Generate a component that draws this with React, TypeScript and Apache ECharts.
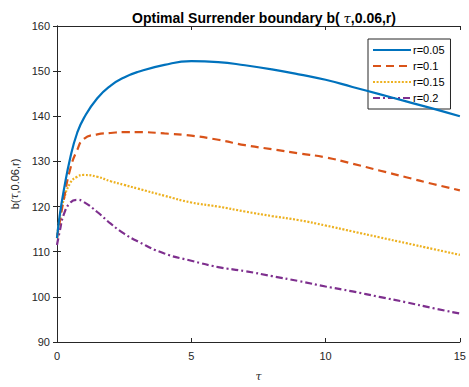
import React, { useEffect, useRef } from "react";
import * as echarts from "echarts";

const tau = [0, 0.1, 0.25, 0.5, 0.75, 1, 1.5, 2, 2.5, 3, 4, 5, 6, 7, 8, 9, 10, 11, 12, 13, 14, 15];
const seriesNames = ["r=0.05", "r=0.1", "r=0.15", "r=0.2"];
const r005 = [113, 118, 123.5, 131, 136.3, 139.6, 144, 146.8, 148.6, 149.8, 151.4, 152.2, 152.0, 151.3, 150.4, 149.3, 148.1, 146.5, 144.9, 143.3, 141.7, 140.0];
const r01 = [113, 116.5, 121.5, 128.5, 132.5, 135.0, 136.0, 136.3, 136.5, 136.5, 136.2, 135.7, 134.8, 133.6, 132.7, 131.8, 130.9, 129.5, 128.0, 126.5, 125.0, 123.6];
const r015 = [113, 117.5, 121.5, 125.3, 126.6, 127.0, 126.6, 125.6, 124.8, 124.0, 122.4, 120.9, 120.0, 118.9, 117.9, 117.0, 115.8, 114.5, 113.2, 111.9, 110.6, 109.3];
const r02 = [111.5, 114.5, 118.2, 120.9, 121.5, 121.0, 118.8, 116.2, 114.0, 112.3, 109.6, 108.0, 106.6, 105.7, 104.6, 103.5, 102.3, 101.2, 100.0, 98.8, 97.5, 96.3];
const xTicks = { min: 0, max: 15, interval: 5 };
const yTicks = { min: 90, max: 160, interval: 10 };

const colors = ["#0072BD", "#D95319", "#EDB120", "#7E2F8E"];
const dashes: any[] = ["solid", [8, 5], [2, 1.6], [7, 3, 2, 3]];
const allValues = [r005, r01, r015, r02];

const FONT = "Liberation Sans, Arial, Helvetica, sans-serif";
const AX = "#262626";

export default function App() {
  const ref = useRef<HTMLDivElement>(null);
  useEffect(() => {
    document.body.style.margin = "0";
    document.body.style.overflow = "hidden";
    if (!ref.current) return;
    const chart = echarts.init(ref.current, undefined, { renderer: "svg" });
    const axisCommon = {
      axisLine: { show: true, lineStyle: { color: AX, width: 1 } },
      axisTick: { show: true, inside: true, length: 4, lineStyle: { color: AX } },
      splitLine: { show: false },
    };
    chart.setOption({
      animation: false,
      backgroundColor: "#ffffff",
      title: {
        text: "Optimal Surrender boundary b( {i|τ},0.06,r)",
        left: 259,
        textAlign: "center",
        top: 6,
        textStyle: {
          fontFamily: FONT,
          fontSize: 14,
          fontWeight: "bold",
          color: "#000",
          rich: { i: { fontStyle: "italic", fontFamily: "DejaVu Serif, serif", fontSize: 13, fontWeight: "normal", color: "#000" } },
        },
      },
      legend: {
        orient: "vertical",
        left: 368,
        top: 39,
        padding: [5, 6, 5, 4],
        itemWidth: 38,
        itemHeight: 8,
        itemGap: 4,
        backgroundColor: "#ffffff",
        borderColor: AX,
        borderWidth: 1,
        itemStyle: { opacity: 0 },
        textStyle: { fontFamily: FONT, fontSize: 11, color: "#000", padding: [0, 0, 0, -3], lineHeight: 12 },
        data: seriesNames,
      },
      grid: { left: 57, right: 8, top: 26, bottom: 38, containLabel: false },
      xAxis: [
        {
          type: "value",
          ...xTicks,
          ...axisCommon,
          name: "τ",
          nameLocation: "middle",
          nameGap: 29,
          nameTextStyle: { fontFamily: "DejaVu Serif, serif", fontStyle: "italic", fontSize: 11, color: AX },
          axisLabel: { color: AX, fontFamily: FONT, fontSize: 11, margin: 8 },
        },
        {
          type: "value",
          position: "top",
          ...xTicks,
          ...axisCommon,
          axisLabel: { show: false },
        },
      ],
      yAxis: [
        {
          type: "value",
          ...yTicks,
          ...axisCommon,
          name: "b({i|τ},0.06,r)",
          nameLocation: "middle",
          nameGap: 37,
          nameRotate: 90,
          nameTextStyle: {
            fontFamily: FONT,
            fontSize: 11,
            color: AX,
            rich: { i: { fontStyle: "italic", fontFamily: "DejaVu Serif, serif", fontSize: 11, color: AX } },
          },
          axisLabel: { color: AX, fontFamily: FONT, fontSize: 11, margin: 7 },
        },
        {
          type: "value",
          position: "right",
          ...yTicks,
          ...axisCommon,
          axisLabel: { show: false },
        },
      ],
      series: seriesNames.map((name, k) => ({
        name,
        type: "line",
        xAxisIndex: 0,
        yAxisIndex: 0,
        data: tau.map((t, i) => [t, allValues[k][i]]),
        smooth: 0.5,
        symbol: "none",
        showSymbol: false,
        z: 10 - k,
        lineStyle: { color: colors[k], width: 2.2, type: dashes[k] },
        itemStyle: { color: colors[k] },
      })),
    });
    return () => chart.dispose();
  }, []);
  return <div ref={ref} style={{ position: "absolute", left: 0, top: 0, width: 469, height: 387 }} />;
}
